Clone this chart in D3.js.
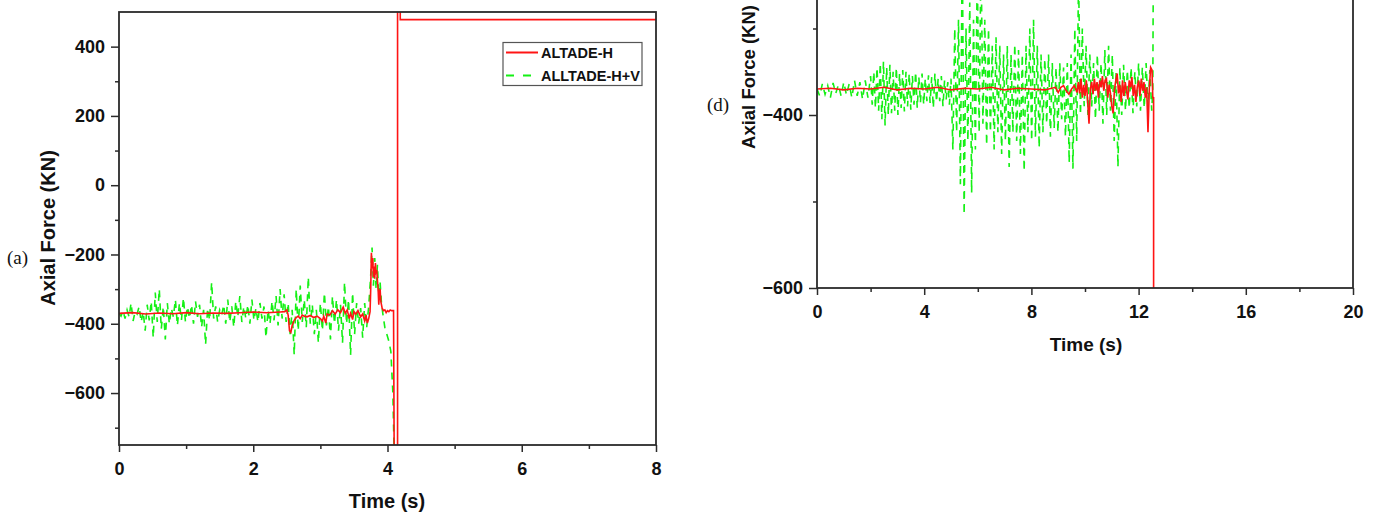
<!DOCTYPE html>
<html><head><meta charset="utf-8">
<script src="https://cdn.jsdelivr.net/npm/d3@7"></script>
<style>body{margin:0;background:#fff;overflow:hidden}svg{display:block}</style>
</head><body><svg id="c" width="1380" height="513"></svg>
<script>
// ---------- data ----------
const seriesNames = ["ALTADE-H", "ALLTADE-H+V"];
const panelTags = ["(a)", "(d)"];
const xTitle = "Time (s)";
const yTitle = "Axial Force (KN)";

const aTicksX = [0, 2, 4, 6, 8];
const aMinorX = [1, 3, 5, 7];
const aTicksY = [-600, -400, -200, 0, 200, 400];
const aMinorY = [-700, -500, -300, -100, 100, 300];
const dTicksX = [0, 4, 8, 12, 16, 20];
const dMinorX = [2, 6, 10, 14, 18];
const dTicksY = [-600, -400];
const dMinorY = [-500, -300];

// panel (a) ALTADE-H  [time s, force kN]
const aH = [[0,-370],[0.2,-368],[0.4,-372],[0.6,-369],[0.8,-371],[1.0,-368],[1.2,-371],[1.4,-369],[1.6,-370],[1.8,-368],
[2.0,-366],[2.2,-368],[2.4,-366],[2.47,-365],[2.50,-360],[2.52,-375],[2.54,-420],[2.56,-425],[2.58,-405],[2.61,-390],
[2.64,-382],[2.67,-378],[2.70,-385],[2.73,-375],[2.76,-378],[2.80,-380],[2.85,-376],[2.90,-382],[2.95,-378],[3.00,-385],
[3.03,-392],[3.05,-378],[3.08,-398],[3.10,-372],[3.14,-375],[3.18,-362],[3.22,-372],[3.26,-360],[3.30,-368],[3.34,-352],
[3.37,-370],[3.40,-360],[3.43,-385],[3.45,-370],[3.48,-388],[3.50,-365],[3.53,-372],[3.56,-362],[3.60,-380],[3.63,-372],
[3.66,-392],[3.68,-375],[3.70,-398],[3.72,-385],[3.74,-365],[3.75,-300],[3.76,-195],[3.77,-240],[3.78,-210],[3.79,-265],
[3.80,-235],[3.81,-270],[3.82,-225],[3.83,-255],[3.84,-245],[3.85,-275],[3.86,-300],[3.87,-345],[3.88,-310],[3.89,-300],
[3.90,-335],[3.92,-355],[3.94,-362],[3.96,-360],[3.98,-368],[4.00,-362],[4.02,-365],[4.04,-360],[4.06,-362],[4.09,-362],
[4.10,-800],[4.15,-800],[4.15,560],[4.19,560],[4.19,478],[8,478]];

// panel (a) ALLTADE-H+V
const aHV = [[0,-370],[0.03,-378],[0.06,-362],[0.09,-385],[0.12,-360],[0.15,-380],[0.18,-340],[0.21,-392],[0.24,-365],[0.27,-372],
[0.30,-350],[0.33,-395],[0.36,-365],[0.39,-420],[0.42,-345],[0.45,-390],[0.48,-335],[0.51,-440],[0.54,-310],[0.57,-395],
[0.60,-300],[0.63,-415],[0.66,-350],[0.69,-445],[0.72,-340],[0.75,-400],[0.78,-355],[0.81,-380],[0.84,-330],[0.87,-405],
[0.90,-340],[0.93,-390],[0.96,-325],[0.99,-395],[1.02,-350],[1.05,-385],[1.08,-345],[1.11,-400],[1.14,-335],[1.17,-380],
[1.20,-345],[1.23,-410],[1.26,-360],[1.29,-460],[1.32,-355],[1.35,-390],[1.38,-280],[1.41,-385],[1.44,-350],[1.47,-395],
[1.50,-360],[1.53,-375],[1.56,-345],[1.59,-400],[1.62,-330],[1.65,-395],[1.68,-350],[1.71,-410],[1.74,-335],[1.77,-380],
[1.80,-320],[1.83,-395],[1.86,-350],[1.89,-385],[1.92,-345],[1.95,-400],[1.98,-330],[2.01,-390],[2.04,-355],[2.07,-395],
[2.10,-340],[2.13,-385],[2.16,-350],[2.19,-440],[2.22,-360],[2.25,-400],[2.28,-335],[2.31,-390],[2.34,-320],[2.37,-405],
[2.40,-300],[2.43,-385],[2.46,-315],[2.49,-395],[2.52,-340],[2.55,-430],[2.58,-360],[2.61,-490],[2.64,-300],[2.67,-420],
[2.70,-290],[2.73,-395],[2.76,-330],[2.79,-410],[2.82,-265],[2.85,-400],[2.88,-345],[2.91,-430],[2.94,-360],[2.97,-455],
[3.00,-340],[3.03,-420],[3.06,-310],[3.09,-405],[3.12,-350],[3.15,-445],[3.18,-320],[3.21,-400],[3.24,-330],[3.27,-420],
[3.30,-345],[3.33,-455],[3.36,-280],[3.39,-400],[3.42,-330],[3.45,-490],[3.48,-310],[3.51,-430],[3.54,-340],[3.57,-400],
[3.60,-355],[3.63,-440],[3.66,-340],[3.69,-410],[3.72,-350],[3.75,-260],[3.77,-180],[3.79,-290],[3.81,-210],[3.83,-300],
[3.85,-230],[3.87,-320],[3.89,-280],[3.91,-340],[3.93,-370],[3.96,-410],[3.99,-430],[4.02,-450],[4.05,-480],[4.08,-600],
[4.10,-780]];

// panel (d) ALTADE-H
const dH = [[0,-370],[0.5,-369],[1,-371],[1.5,-369],[2,-370],[2.5,-368],[3,-371],[3.5,-369],[4,-370],[4.5,-368],
[5,-371],[5.5,-369],[6,-370],[6.5,-368],[7,-371],[7.5,-369],[8,-370],[8.5,-371],[8.9,-368],[9.0,-374],
[9.1,-368],[9.2,-366],[9.3,-372],[9.4,-376],[9.5,-370],[9.6,-366],[9.7,-374],[9.75,-362],[9.8,-375],[9.85,-358],
[9.9,-380],[9.95,-365],[10.0,-378],[10.05,-360],[10.1,-385],[10.15,-410],[10.2,-370],[10.25,-362],[10.3,-376],[10.35,-358],
[10.4,-372],[10.45,-362],[10.5,-380],[10.55,-360],[10.6,-368],[10.65,-355],[10.7,-372],[10.75,-360],[10.8,-358],[10.85,-380],
[10.9,-365],[10.95,-375],[11.0,-390],[11.05,-398],[11.1,-370],[11.15,-360],[11.2,-352],[11.25,-375],[11.3,-365],[11.35,-385],
[11.4,-360],[11.45,-378],[11.5,-362],[11.55,-372],[11.6,-382],[11.65,-360],[11.7,-368],[11.75,-356],[11.8,-378],[11.85,-365],
[11.9,-385],[11.95,-368],[12.0,-360],[12.05,-378],[12.1,-358],[12.15,-372],[12.2,-362],[12.25,-380],[12.3,-368],[12.35,-420],
[12.4,-370],[12.45,-345],[12.5,-348],[12.53,-380],[12.56,-380],[12.56,-700]];

// panel (d) ALLTADE-H+V
const dHV = [[0,-370],[0.1,-378],[0.2,-364],[0.3,-376],[0.4,-366],[0.5,-380],[0.6,-363],[0.7,-375],[0.8,-365],[0.9,-378],
[1.0,-362],[1.1,-377],[1.2,-364],[1.3,-380],[1.4,-360],[1.5,-378],[1.6,-362],[1.7,-382],[1.8,-360],[1.9,-380],
[2.0,-355],[2.06,-388],[2.12,-350],[2.18,-392],[2.24,-345],[2.30,-395],[2.36,-340],[2.42,-405],[2.48,-338],[2.54,-412],
[2.60,-345],[2.66,-400],[2.72,-342],[2.78,-398],[2.84,-350],[2.90,-395],[2.96,-345],[3.02,-400],[3.08,-352],[3.14,-392],
[3.20,-348],[3.26,-396],[3.32,-350],[3.38,-390],[3.44,-352],[3.50,-394],[3.56,-355],[3.62,-388],[3.68,-350],[3.74,-392],
[3.80,-356],[3.86,-386],[3.92,-352],[3.98,-388],[4.04,-358],[4.10,-384],[4.16,-354],[4.22,-386],[4.28,-356],[4.34,-392],
[4.40,-352],[4.46,-385],[4.52,-358],[4.58,-384],[4.64,-355],[4.70,-390],[4.76,-360],[4.82,-382],[4.88,-362],[4.94,-388],
[5.00,-358],[5.07,-440],[5.14,-300],[5.21,-420],[5.28,-290],[5.35,-480],[5.42,-200],[5.49,-515],[5.56,-300],[5.63,-430],
[5.70,-270],[5.77,-490],[5.84,-290],[5.91,-440],[5.98,-230],[6.05,-420],[6.12,-210],[6.19,-410],[6.26,-290],[6.33,-435],
[6.40,-300],[6.47,-420],[6.54,-320],[6.61,-440],[6.68,-310],[6.75,-420],[6.82,-320],[6.89,-445],[6.96,-330],[7.03,-430],
[7.10,-320],[7.17,-460],[7.24,-330],[7.31,-420],[7.38,-318],[7.45,-430],[7.52,-325],[7.59,-445],[7.66,-330],[7.73,-465],
[7.80,-320],[7.87,-420],[7.94,-300],[8.01,-430],[8.08,-290],[8.15,-425],[8.22,-320],[8.29,-438],[8.36,-330],[8.43,-420],
[8.50,-335],[8.57,-410],[8.64,-330],[8.71,-425],[8.78,-340],[8.85,-415],[8.92,-345],[8.99,-420],[9.06,-340],[9.13,-405],
[9.20,-345],[9.27,-425],[9.34,-340],[9.41,-455],[9.48,-330],[9.55,-462],[9.62,-300],[9.69,-430],[9.76,-240],[9.83,-400],
[9.90,-300],[9.97,-390],[10.04,-320],[10.11,-400],[10.18,-330],[10.25,-390],[10.32,-340],[10.39,-405],[10.46,-330],[10.53,-395],
[10.60,-340],[10.67,-410],[10.74,-325],[10.81,-400],[10.88,-320],[10.95,-395],[11.02,-330],[11.09,-430],[11.16,-350],[11.23,-460],
[11.30,-345],[11.37,-400],[11.44,-342],[11.51,-395],[11.58,-348],[11.65,-392],[11.72,-345],[11.79,-398],[11.86,-350],[11.93,-390],
[12.00,-340],[12.07,-395],[12.14,-345],[12.21,-392],[12.28,-340],[12.35,-390],[12.42,-348],[12.49,-395],[12.53,-370],[12.56,-150]];

// ---------- drawing ----------
const RED = "#ff1414", GREEN = "#14f014", AX = "#2b2b2b";
const FONT = "'Liberation Sans', Arial, sans-serif";
const svg = d3.select("#c");

function panel(cfg) {
  const x = d3.scaleLinear().domain(cfg.xDomain).range([cfg.left, cfg.right]);
  const y = d3.scaleLinear().domain(cfg.yDomain).range([cfg.bottom, cfg.top]);
  const g = svg.append("g");
  const clipId = "clip" + cfg.id;
  svg.append("clipPath").attr("id", clipId).append("rect")
    .attr("x", cfg.left).attr("y", cfg.top)
    .attr("width", cfg.right - cfg.left).attr("height", cfg.bottom - cfg.top);

  const line = d3.line().x(d => x(d[0])).y(d => y(d[1]));
  const lines = g.append("g").attr("clip-path", `url(#${clipId})`);
  lines.append("path").datum(cfg.hv).attr("d", line)
    .attr("fill", "none").attr("stroke", GREEN).attr("stroke-width", 1.6)
    .attr("stroke-dasharray", "7,6");
  lines.append("path").datum(cfg.h).attr("d", line)
    .attr("fill", "none").attr("stroke", RED).attr("stroke-width", 1.6);

  const styleAxis = sel => {
    sel.select(".domain").remove();
    sel.selectAll("line").attr("stroke", AX).attr("stroke-width", 1.5);
    sel.selectAll("text").attr("font-family", FONT).attr("font-weight", "bold")
      .attr("font-size", cfg.tickFont).attr("fill", "#111");
  };
  g.append("g").attr("transform", `translate(0,${cfg.bottom})`)
    .call(d3.axisBottom(x).tickValues(cfg.minorX).tickSize(4).tickFormat("")).call(styleAxis);
  g.append("g").attr("transform", `translate(${cfg.left},0)`)
    .call(d3.axisLeft(y).tickValues(cfg.minorY).tickSize(4).tickFormat("")).call(styleAxis);
  g.append("g").attr("transform", `translate(0,${cfg.bottom})`)
    .call(d3.axisBottom(x).tickValues(cfg.ticksX).tickSize(7).tickPadding(10).tickFormat(d3.format("d"))).call(styleAxis);
  g.append("g").attr("transform", `translate(${cfg.left},0)`)
    .call(d3.axisLeft(y).tickValues(cfg.ticksY).tickSize(8).tickPadding(6).tickFormat(d3.format("d"))).call(styleAxis);

  g.append("rect").attr("x", cfg.left).attr("y", cfg.top)
    .attr("width", cfg.right - cfg.left).attr("height", cfg.bottom - cfg.top)
    .attr("fill", "none").attr("stroke", AX).attr("stroke-width", 1.8);

  g.append("text").attr("x", cfg.xtX).attr("y", cfg.xtY).attr("text-anchor", "middle")
    .attr("font-family", FONT).attr("font-weight", "bold").attr("font-size", cfg.titleFont)
    .attr("fill", "#111").text(xTitle);
  g.append("text").attr("transform", `translate(${cfg.ytX},${cfg.ytY}) rotate(-90)`)
    .attr("text-anchor", "middle")
    .attr("font-family", FONT).attr("font-weight", "bold").attr("font-size", cfg.yTitleFont)
    .attr("fill", "#111").text(yTitle);
  g.append("text").attr("x", cfg.tagX).attr("y", cfg.tagY)
    .attr("font-family", "'Liberation Serif', 'Times New Roman', serif").attr("font-size", 19)
    .attr("fill", "#111").text(cfg.tag);

  if (cfg.legend) {
    const L = cfg.legend;
    const lg = g.append("g");
    lg.append("rect").attr("x", L.x).attr("y", L.y).attr("width", L.w).attr("height", L.h)
      .attr("fill", "#fff").attr("stroke", "#555").attr("stroke-width", 1.2);
    const colors = [RED, GREEN], dashes = [null, "8,9"];
    seriesNames.forEach((n, i) => {
      const yy = L.y + 10 + i * 23;
      lg.append("line").attr("x1", L.x + 3).attr("x2", L.x + 35).attr("y1", yy).attr("y2", yy)
        .attr("stroke", colors[i]).attr("stroke-width", 2).attr("stroke-dasharray", dashes[i]);
      lg.append("text").attr("x", L.x + 38).attr("y", yy + 5)
        .attr("font-family", FONT).attr("font-weight", "bold").attr("font-size", 14.5)
        .attr("fill", "#111").text(n);
    });
  }
}

panel({id: "a", left: 119, right: 656, top: 12, bottom: 445,
  xDomain: [0, 8], yDomain: [-750, 500],
  ticksX: aTicksX, minorX: aMinorX, ticksY: aTicksY, minorY: aMinorY,
  h: aH, hv: aHV, tickFont: 18, titleFont: 20, yTitleFont: 20,
  xtX: 387, xtY: 508, ytX: 55, ytY: 228, tag: panelTags[0], tagX: 7, tagY: 264,
  legend: {x: 503, y: 42.5, w: 139, h: 43}});

panel({id: "d", left: 817, right: 1353, top: -144.5, bottom: 288,
  xDomain: [0, 20], yDomain: [-600, -100],
  ticksX: dTicksX, minorX: dMinorX, ticksY: dTicksY, minorY: dMinorY,
  h: dH, hv: dHV, tickFont: 18, titleFont: 19, yTitleFont: 18.5,
  xtX: 1086, xtY: 351, ytX: 755, ytY: 77, tag: panelTags[1], tagX: 707, tagY: 111,
  legend: null});
</script></body></html>
